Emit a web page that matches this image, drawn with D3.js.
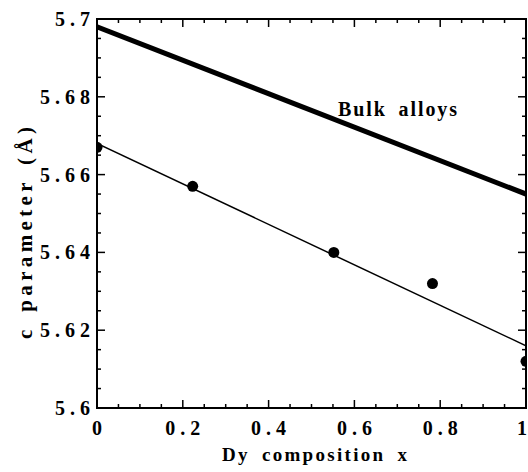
<!DOCTYPE html>
<html lang="en">
<head>
<meta charset="UTF-8">
<title>c parameter vs Dy composition</title>
<script src="https://d3js.org/d3.v7.min.js"></script>
<style>
    body { margin: 0; background: #fff; }
    .tick-label { font-size: 20px; letter-spacing: 5px; }
</style>
</head>
<body>
<div id="chart"></div>
<script>
// measured points (Dy composition x, c parameter)
var dyX = [0, 0.223, 0.552, 0.782, 1];
var cParam = [5.667, 5.657, 5.640, 5.632, 5.612];
// linear fit through the film data
var fitX = [0, 1];
var fitC = [5.668, 5.616];
// bulk alloys reference line
var bulkX = [0, 1];
var bulkC = [5.698, 5.655];
// ticks
var xMajor = [0, 0.2, 0.4, 0.6, 0.8, 1];
var xLabels = ['0', '0.2', '0.4', '0.6', '0.8', '1'];
var yMajor = [5.6, 5.62, 5.64, 5.66, 5.68, 5.7];
var yLabels = ['5.6', '5.62', '5.64', '5.66', '5.68', '5.7'];

var width = 528, height = 472;
var margin = {top: 19, right: 2, bottom: 64, left: 97};
var w = width - margin.left - margin.right,
    h = height - margin.top - margin.bottom;

var svg = d3.select('#chart').append('svg')
    .attr('width', width)
    .attr('height', height)
    .attr('font-family', "'Liberation Serif', 'Times New Roman', Times, 'DejaVu Serif', serif")
    .attr('font-weight', 'bold');

var g = svg.append('g')
    .attr('transform', 'translate(' + margin.left + ',' + margin.top + ')');

var x = d3.scaleLinear().domain([0, 1]).range([0, w]);
var y = d3.scaleLinear().domain([5.6, 5.7]).range([h, 0]);

svg.append('defs').append('clipPath').attr('id', 'clip')
    .append('rect').attr('width', w).attr('height', h);

// minor + major ticks, pointing inward on all four sides
var xMinor = d3.range(0, 1.0001, 0.05);
var yMinor = d3.range(5.6, 5.70001, 0.005);
function isMajor(v, list) {
    return list.some(function (m) { return Math.abs(m - v) < 1e-6; });
}
var ticks = g.append('g').attr('stroke', '#000').attr('stroke-width', 1.5);
xMinor.forEach(function (v) {
    var len = isMajor(v, xMajor) ? 8 : 4;
    ticks.append('line').attr('x1', x(v)).attr('x2', x(v)).attr('y1', h).attr('y2', h - len);
    ticks.append('line').attr('x1', x(v)).attr('x2', x(v)).attr('y1', 0).attr('y2', len);
});
yMinor.forEach(function (v) {
    var len = isMajor(v, yMajor) ? 8 : 4;
    ticks.append('line').attr('y1', y(v)).attr('y2', y(v)).attr('x1', 0).attr('x2', len);
    ticks.append('line').attr('y1', y(v)).attr('y2', y(v)).attr('x1', w).attr('x2', w - len);
});

// frame
g.append('rect')
    .attr('width', w).attr('height', h)
    .attr('fill', 'none').attr('stroke', '#000').attr('stroke-width', 2);

// tick labels; the last x label is right-aligned so it stays on the page
var last = xMajor.length - 1;
g.selectAll('.xl').data(xMajor).enter().append('text')
    .attr('class', 'tick-label')
    .attr('x', function (d, i) { return i === last ? x(d) + 1 : x(d) + 2.5; })
    .attr('y', h + 27)
    .attr('text-anchor', function (d, i) { return i === last ? 'end' : 'middle'; })
    .style('letter-spacing', function (d, i) { return i === last ? '0px' : null; })
    .text(function (d, i) { return xLabels[i]; });

g.selectAll('.yl').data(yMajor).enter().append('text')
    .attr('class', 'tick-label')
    .attr('x', -2)
    .attr('y', function (d) { return y(d); })
    .attr('dy', '0.35em')
    .attr('text-anchor', 'end')
    .text(function (d, i) { return yLabels[i]; });

// lines
var line = d3.line().x(function (d) { return x(d[0]); }).y(function (d) { return y(d[1]); });
var plot = g.append('g').attr('clip-path', 'url(#clip)');

plot.append('path')
    .datum(d3.zip(bulkX, bulkC))
    .attr('d', line)
    .attr('fill', 'none').attr('stroke', '#000').attr('stroke-width', 5);

plot.append('path')
    .datum(d3.zip(fitX, fitC))
    .attr('d', line)
    .attr('fill', 'none').attr('stroke', '#000').attr('stroke-width', 1.5);

plot.selectAll('circle').data(d3.zip(dyX, cParam)).enter().append('circle')
    .attr('cx', function (d) { return x(d[0]); })
    .attr('cy', function (d) { return y(d[1]); })
    .attr('r', 5.5)
    .attr('fill', '#000');

// annotation
svg.append('text')
    .attr('x', 338)
    .attr('y', 116)
    .attr('font-size', 20)
    .style('word-spacing', '5px')
    .attr('textLength', 119)
    .attr('lengthAdjust', 'spacing')
    .text('Bulk alloys');

// axis titles
svg.append('text')
    .attr('x', 222)
    .attr('y', 461)
    .attr('font-size', 19)
    .style('word-spacing', '5px')
    .attr('textLength', 185)
    .attr('lengthAdjust', 'spacing')
    .text('Dy composition x');

svg.append('text')
    .attr('transform', 'translate(32,339) rotate(-90)')
    .attr('font-size', 21)
    .style('word-spacing', '4px')
    .attr('textLength', 212)
    .attr('lengthAdjust', 'spacing')
    .text('c parameter (Å)');
</script>
</body>
</html>
